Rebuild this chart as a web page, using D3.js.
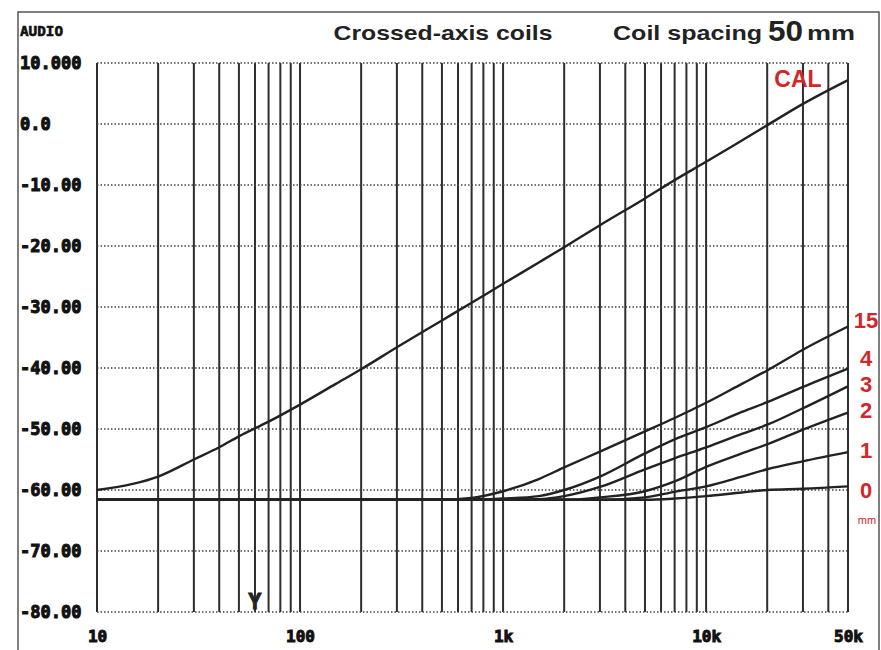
<!DOCTYPE html>
<html><head><meta charset="utf-8">
<script src="https://cdn.jsdelivr.net/npm/d3@7"></script>
<style>
html,body{margin:0;padding:0;background:#fff;}
svg{display:block;}
</style></head>
<body><svg id="chart" width="881" height="650"></svg>
<script>
// ---- data ----
const freqs = [10,15,20,30,40,50,70,100,150,200,300,500,700,1000,1500,2000,3000,5000,7000,10000,15000,20000,30000,50000];
const calValues = [-60.0,-59.0,-57.8,-55.0,-53.0,-51.2,-48.8,-46.0,-42.6,-40.2,-36.6,-32.2,-29.3,-26.2,-22.7,-20.2,-16.6,-12.2,-9.2,-6.2,-2.7,-0.2,3.3,7.2];
const mm15 = [-61.6,-61.6,-61.6,-61.6,-61.6,-61.6,-61.6,-61.6,-61.6,-61.6,-61.6,-61.6,-61.3,-60.2,-58.2,-56.3,-53.7,-50.4,-48.2,-45.7,-42.6,-40.4,-37.0,-33.2];
const mm4  = [-61.6,-61.6,-61.6,-61.6,-61.6,-61.6,-61.6,-61.6,-61.6,-61.6,-61.6,-61.6,-61.6,-61.4,-61.0,-60.0,-57.8,-54.0,-51.7,-49.7,-47.2,-45.6,-43.1,-40.1];
const mm3  = [-61.6,-61.6,-61.6,-61.6,-61.6,-61.6,-61.6,-61.6,-61.6,-61.6,-61.6,-61.6,-61.6,-61.6,-61.5,-61.0,-59.5,-56.6,-54.8,-53.0,-50.8,-49.3,-46.6,-43.0];
const mm2  = [-61.6,-61.6,-61.6,-61.6,-61.6,-61.6,-61.6,-61.6,-61.6,-61.6,-61.6,-61.6,-61.6,-61.6,-61.6,-61.6,-61.2,-60.2,-58.6,-56.2,-54.0,-52.5,-50.1,-47.3];
const mm1  = [-61.6,-61.6,-61.6,-61.6,-61.6,-61.6,-61.6,-61.6,-61.6,-61.6,-61.6,-61.6,-61.6,-61.6,-61.6,-61.6,-61.6,-61.2,-60.3,-59.4,-57.8,-56.6,-55.3,-53.8];
const mm0  = [-61.6,-61.6,-61.6,-61.6,-61.6,-61.6,-61.6,-61.6,-61.6,-61.6,-61.6,-61.6,-61.6,-61.6,-61.6,-61.6,-61.6,-61.6,-61.4,-61.0,-60.4,-60.0,-59.8,-59.4];
const seriesNames = ["CAL","15","4","3","2","1","0"];
const seriesValues = [calValues, mm15, mm4, mm3, mm2, mm1, mm0];
const xTickValues = [10,100,1000,10000,50000];
const xTickLabels = ["10","100","1k","10k","50k"];
const yTickValues = [10,0,-10,-20,-30,-40,-50,-60,-70,-80];
const yTickLabels = ["10.000","0.0","-10.00","-20.00","-30.00","-40.00","-50.00","-60.00","-70.00","-80.00"];

// ---- layout ----
const svg = d3.select("#chart");
const L = 97, R = 848, T = 63, B = 612;
const x = d3.scaleLog().domain([10,50000]).range([L,R]);
const y = d3.scaleLinear().domain([-80,10]).range([B,T]);
const red = "#d3262b";

// outer frame
svg.append("rect").attr("x",18).attr("y",12).attr("width",861).attr("height",660)
  .attr("fill","none").attr("stroke","#555").attr("stroke-width",1.5);

// vertical grid (log minor lines)
const vlines = [];
for (let d = 10; d < 50000; d *= 10) for (let k = 1; k <= 9; k++) { const v = d*k; if (v <= 50000) vlines.push(v); }
vlines.push(50000);
svg.append("g").selectAll("line").data(vlines).join("line")
  .attr("x1",d=>x(d)).attr("x2",d=>x(d)).attr("y1",T).attr("y2",B)
  .attr("stroke","#2e2e2e").attr("stroke-width",2);

// horizontal grid (dotted)
svg.append("g").selectAll("line").data(yTickValues).join("line")
  .attr("x1",L).attr("x2",R).attr("y1",d=>y(d)).attr("y2",d=>y(d))
  .attr("stroke","#444").attr("stroke-width",1.5).attr("stroke-dasharray","1.5,2");

// axes labels via d3 axes (domain/ticks hidden)
const yAxis = d3.axisLeft(y).tickValues(yTickValues).tickFormat((d,i)=>yTickLabels[i]).tickSize(0);
const gy = svg.append("g").attr("transform","translate(20,0)").call(yAxis);
gy.select(".domain").remove();
gy.selectAll("text").attr("text-anchor","start").attr("x",0).attr("dy","0.35em")
  .attr("font-family","DejaVu Sans Mono").attr("font-weight","bold").attr("font-size",17)
  .attr("fill","#111").attr("stroke","#111").attr("stroke-width",1);

const xAxis = d3.axisBottom(x).tickValues(xTickValues).tickFormat((d,i)=>xTickLabels[i]).tickSize(0);
const gx = svg.append("g").attr("transform","translate(0,628)").call(xAxis);
gx.select(".domain").remove();
gx.selectAll("text").attr("dy","0.71em").attr("font-family","DejaVu Sans Mono").attr("font-weight","bold")
  .attr("font-size",16).attr("fill","#111").attr("stroke","#111").attr("stroke-width",1);

// curves
const line = d3.line().x((d,i)=>x(freqs[i])).y(d=>y(d)).curve(d3.curveMonotoneX);
svg.append("g").selectAll("path").data(seriesValues).join("path")
  .attr("d",d=>line(d)).attr("fill","none").attr("stroke","#222").attr("stroke-width",2.4);

// cursor marker
svg.append("text").attr("x",x(60)).attr("y",y(-79.5)).attr("text-anchor","middle")
  .attr("font-family","DejaVu Sans Mono").attr("font-weight","bold").attr("font-size",22)
  .attr("fill","#222").attr("stroke","#222").attr("stroke-width",0.8).text("Y");

// series labels
const labelPos = {"15":[866,320],"4":[866,358],"3":[866,384],"2":[866,410],"1":[866,450],"0":[866,490]};
Object.entries(labelPos).forEach(([k,p])=>{
  svg.append("text").attr("x",p[0]).attr("y",p[1]).attr("dy","0.36em").attr("text-anchor","middle")
    .attr("font-family","Liberation Sans").attr("font-weight","bold").attr("font-size",22)
    .attr("fill",red).text(k);
});
svg.append("text").attr("x",867).attr("y",520).attr("dy","0.35em").attr("text-anchor","middle")
  .attr("font-family","Liberation Sans").attr("font-size",11).attr("fill",red).text("mm");
svg.append("text").attr("x",798).attr("y",87).attr("text-anchor","middle")
  .attr("font-family","Liberation Sans").attr("font-weight","bold").attr("font-size",23)
  .attr("fill",red).text("CAL");

// header
svg.append("text").attr("x",20).attr("y",36).attr("font-family","DejaVu Sans Mono").attr("font-weight","bold")
  .attr("font-size",14).attr("textLength",43).attr("lengthAdjust","spacingAndGlyphs")
  .attr("fill","#111").attr("stroke","#111").attr("stroke-width",0.6).text("AUDIO");
svg.append("text").attr("x",443).attr("y",40).attr("text-anchor","middle")
  .attr("font-family","Liberation Sans").attr("font-weight","bold").attr("font-size",21)
  .attr("textLength",219).attr("lengthAdjust","spacingAndGlyphs")
  .attr("fill","#222").text("Crossed-axis coils");
svg.append("text").attr("x",613).attr("y",40).attr("font-family","Liberation Sans")
  .attr("font-weight","bold").attr("font-size",21).attr("textLength",149).attr("lengthAdjust","spacingAndGlyphs")
  .attr("fill","#222").text("Coil spacing");
svg.append("text").attr("x",768).attr("y",41).attr("font-family","Liberation Sans")
  .attr("font-weight","bold").attr("font-size",29).attr("textLength",35).attr("lengthAdjust","spacingAndGlyphs")
  .attr("fill","#222").text("50");
svg.append("text").attr("x",807).attr("y",40).attr("font-family","Liberation Sans")
  .attr("font-weight","bold").attr("font-size",21).attr("textLength",48).attr("lengthAdjust","spacingAndGlyphs")
  .attr("fill","#222").text("mm");
</script></body></html>
